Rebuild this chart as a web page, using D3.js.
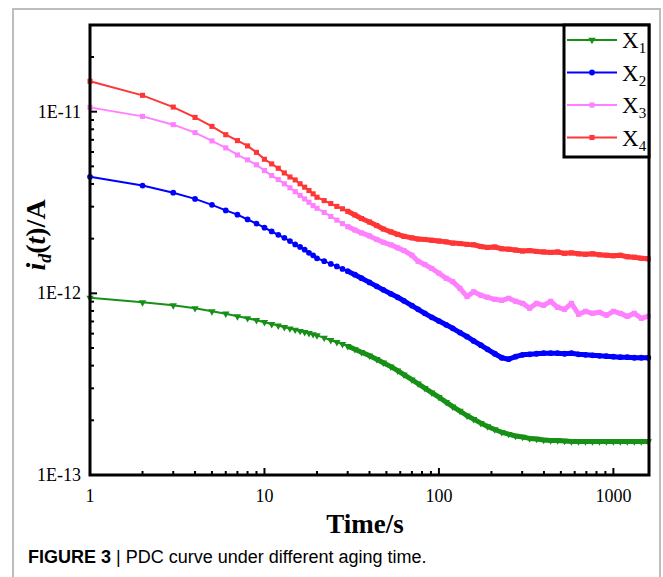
<!DOCTYPE html>
<html lang="en">
<head>
    <meta charset="UTF-8">
    <title>PDC curve</title>
    <script type="application/javascript" src="https://d3js.org/d3.v7.min.js"></script>
    <style>
        body { margin: 0; background: #fff; }
        text { font-family: "Liberation Serif", "Times New Roman", serif; }
    </style>
</head>
<body>
<svg width="663" height="577"></svg>
<script type="application/javascript">
    // time in s, currents in pA
    var times = [1, 2, 3, 4, 5, 6, 7, 8, 9, 10, 11, 12, 13, 14, 15, 16, 17, 18, 19, 20,
        22, 24, 26, 28, 30, 33, 36, 40, 44, 48, 53, 58, 63, 70, 76, 83, 91, 100, 110, 120,
        132, 145, 158, 174, 190, 209, 229, 251, 275, 302, 331, 363, 398, 437, 479, 525, 575,
        631, 692, 759, 832, 912, 1000, 1096, 1202, 1318, 1445, 1585];

    var x1 = [0.945, 0.892, 0.859, 0.827, 0.796, 0.772, 0.747, 0.729, 0.711, 0.693, 0.677, 0.664, 0.651, 0.640, 0.630, 0.620, 0.611, 0.603, 0.595, 0.587,
        0.569, 0.552, 0.538, 0.525, 0.512, 0.492, 0.474, 0.454, 0.434, 0.415, 0.395, 0.375, 0.357, 0.335, 0.318, 0.301, 0.284, 0.268, 0.252, 0.238,
        0.225, 0.212, 0.203, 0.193, 0.185, 0.178, 0.172, 0.168, 0.164, 0.162, 0.159, 0.158, 0.156, 0.155, 0.155, 0.154, 0.153,
        0.153, 0.153, 0.153, 0.153, 0.153, 0.153, 0.153, 0.153, 0.153, 0.153, 0.153];
    var x2 = [4.38, 3.92, 3.58, 3.31, 3.07, 2.86, 2.71, 2.55, 2.42, 2.30, 2.19, 2.10, 2.02, 1.94, 1.86, 1.80, 1.74, 1.67, 1.62, 1.56,
        1.503, 1.452, 1.407, 1.363, 1.324, 1.267, 1.212, 1.149, 1.093, 1.045, 0.994, 0.951, 0.910, 0.856, 0.817, 0.776, 0.738, 0.704, 0.671, 0.642,
        0.608, 0.577, 0.547, 0.518, 0.492, 0.465, 0.442, 0.434, 0.448, 0.459, 0.462, 0.465, 0.468, 0.468, 0.468, 0.465, 0.468,
        0.462, 0.459, 0.456, 0.453, 0.451, 0.448, 0.445, 0.445, 0.442, 0.442, 0.442];
    var x3 = [10.56, 9.42, 8.48, 7.67, 6.90, 6.32, 5.78, 5.43, 5.10, 4.74, 4.45, 4.23, 4.01, 3.81, 3.63, 3.46, 3.31, 3.17, 3.04, 2.94,
        2.79, 2.65, 2.53, 2.42, 2.33, 2.23, 2.15, 2.07, 1.98, 1.91, 1.85, 1.78, 1.72, 1.62, 1.50, 1.44, 1.37, 1.29, 1.21, 1.16,
        1.065, 0.96, 1.02, 0.975, 0.951, 0.927, 0.915, 0.939, 0.904, 0.881, 0.827, 0.881, 0.859, 0.904, 0.838, 0.817, 0.881,
        0.767, 0.796, 0.776, 0.786, 0.757, 0.796, 0.776, 0.747, 0.776, 0.729, 0.747];
    var x4 = [14.7, 12.3, 10.6, 9.30, 8.30, 7.47, 6.93, 6.48, 5.97, 5.47, 5.16, 4.88, 4.60, 4.37, 4.21, 4.01, 3.84, 3.68, 3.53, 3.38,
        3.24, 3.12, 3.01, 2.92, 2.83, 2.70, 2.58, 2.47, 2.36, 2.26, 2.18, 2.11, 2.06, 2.02, 1.99, 1.98, 1.96, 1.94, 1.92, 1.89,
        1.88, 1.86, 1.85, 1.81, 1.79, 1.80, 1.76, 1.75, 1.73, 1.71, 1.72, 1.70, 1.69, 1.68, 1.69, 1.66, 1.67,
        1.65, 1.64, 1.65, 1.63, 1.62, 1.61, 1.62, 1.59, 1.58, 1.56, 1.55];

    var seriesNames = ["1", "2", "3", "4"];
    var seriesColors = ["#169016", "#0000ff", "#ff80ff", "#ff3636"];
    var xTickLabels = ["1", "10", "100", "1000"];
    var yTickLabels = ["1E-13", "1E-12", "1E-11"];

    var svg = d3.select("svg");
    var pLeft = 90, pRight = 649, pTop = 25, pBottom = 475;

    var x = d3.scaleLog().domain([1, 1600]).range([pLeft, pRight]);
    var y = d3.scaleLog().domain([1e-13, 3e-11]).range([pBottom, pTop]);

    // figure frame
    svg.append("rect")
        .attr("x", 13).attr("y", 9)
        .attr("width", 647).attr("height", 590)
        .attr("fill", "#fff")
        .attr("stroke", "#bdbdbd")
        .attr("stroke-width", 2);

    var series = [x1, x2, x3, x4].map(function (vals, i) {
        return {
            name: seriesNames[i],
            color: seriesColors[i],
            points: times.map(function (t, j) {
                return {t: t, v: vals[j] * 1e-12};
            })
        };
    });

    var symbols = [d3.symbolTriangle, d3.symbolCircle, d3.symbolSquare, d3.symbolSquare];
    var symSizes = [24, 26, 26, 26];

    var line = d3.line()
        .x(function (d) { return x(d.t); })
        .y(function (d) { return y(d.v); });

    var plot = svg.append("g");

    series.forEach(function (s, i) {
        var g = plot.append("g");
        g.append("path")
            .datum(s.points)
            .attr("d", line)
            .attr("fill", "none")
            .attr("stroke", s.color)
            .attr("stroke-width", 2);
        // dense part where markers merge into a band
        g.append("path")
            .datum(s.points.filter(function (d) { return d.t >= 30; }))
            .attr("d", line)
            .attr("fill", "none")
            .attr("stroke", s.color)
            .attr("stroke-width", 5)
            .attr("stroke-linejoin", "round");
        g.selectAll(".mk")
            .data(s.points)
            .enter()
            .append("path")
            .attr("class", "mk")
            .attr("d", d3.symbol().type(symbols[i]).size(symSizes[i]))
            .attr("transform", function (d) {
                return "translate(" + x(d.t) + "," + y(d.v) + ")" + (i === 0 ? " rotate(180)" : "");
            })
            .attr("fill", s.color);
    });

    // ticks (inside)
    var axes = svg.append("g");
    x.ticks().forEach(function (t) {
        var major = Math.abs(Math.log10(t) - Math.round(Math.log10(t))) < 1e-9;
        axes.append("line")
            .attr("x1", x(t)).attr("x2", x(t))
            .attr("y1", pBottom).attr("y2", pBottom - (major ? 7 : 4))
            .attr("stroke", "#000").attr("stroke-width", 2);
    });
    y.ticks().forEach(function (v) {
        var major = Math.abs(Math.log10(v) - Math.round(Math.log10(v))) < 1e-9;
        axes.append("line")
            .attr("x1", pLeft).attr("x2", pLeft + (major ? 7 : 4))
            .attr("y1", y(v)).attr("y2", y(v))
            .attr("stroke", "#000").attr("stroke-width", 2);
    });

    axes.append("rect")
        .attr("x", pLeft).attr("y", pTop)
        .attr("width", pRight - pLeft).attr("height", pBottom - pTop)
        .attr("fill", "none")
        .attr("stroke", "#000")
        .attr("stroke-width", 3);

    axes.selectAll(".xl")
        .data(xTickLabels)
        .enter()
        .append("text")
        .attr("x", function (d) { return x(+d); })
        .attr("y", 502)
        .attr("text-anchor", "middle")
        .attr("font-size", 18)
        .text(function (d) { return d; });

    axes.selectAll(".yl")
        .data(yTickLabels)
        .enter()
        .append("text")
        .attr("x", 81)
        .attr("y", function (d) { return y(+d) + 6; })
        .attr("text-anchor", "end")
        .attr("font-size", 18)
        .text(function (d) { return d; });

    svg.append("text")
        .attr("x", 365).attr("y", 533)
        .attr("text-anchor", "middle")
        .attr("font-size", 27)
        .attr("font-weight", "bold")
        .text("Time/s");

    var yl = svg.append("text")
        .attr("transform", "translate(45,235) rotate(-90)")
        .attr("text-anchor", "middle")
        .attr("font-size", 28)
        .attr("font-weight", "bold");
    yl.append("tspan").attr("font-style", "italic").text("i");
    yl.append("tspan").attr("font-style", "italic").attr("font-size", 18).attr("dy", 6).text("d");
    yl.append("tspan").attr("dy", -6).text("(");
    yl.append("tspan").attr("font-style", "italic").text("t");
    yl.append("tspan").text(")/A");

    // legend
    var leg = svg.append("g");
    leg.append("rect")
        .attr("x", 564).attr("y", pTop)
        .attr("width", pRight - 564).attr("height", 132)
        .attr("fill", "#fff")
        .attr("stroke", "#000")
        .attr("stroke-width", 3);
    series.forEach(function (s, i) {
        var ly = 40 + i * 32.5;
        leg.append("line")
            .attr("x1", 567).attr("x2", 617)
            .attr("y1", ly).attr("y2", ly)
            .attr("stroke", s.color).attr("stroke-width", 2);
        leg.append("path")
            .attr("d", d3.symbol().type(symbols[i]).size(symSizes[i]))
            .attr("transform", "translate(592," + ly + ")" + (i === 0 ? " rotate(180)" : ""))
            .attr("fill", s.color);
        var t = leg.append("text")
            .attr("x", 622).attr("y", ly + 8)
            .attr("font-size", 23);
        t.append("tspan").text("X");
        t.append("tspan").attr("font-size", 15).attr("dy", 5).text(s.name);
    });

    // caption
    var cap = svg.append("text")
        .attr("x", 28).attr("y", 563)
        .attr("font-size", 18)
        .style("font-family", "'Liberation Sans', Arial, sans-serif");
    cap.append("tspan").attr("font-weight", "bold").text("FIGURE 3");
    cap.append("tspan").text(" | PDC curve under different aging time.");
</script>
</body>
</html>
